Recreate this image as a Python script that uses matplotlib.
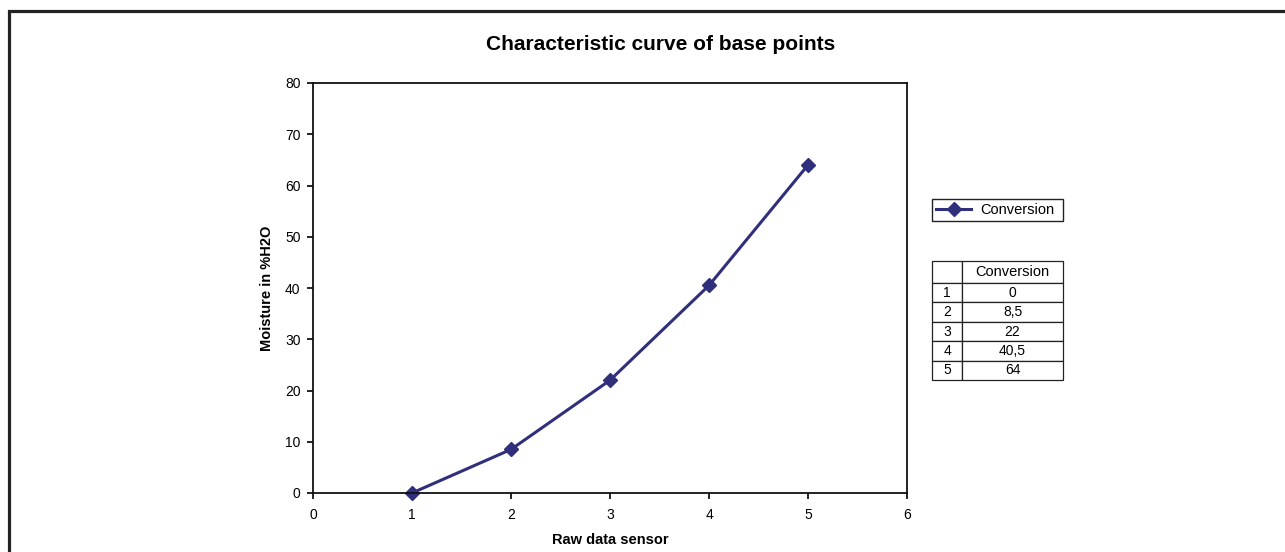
import matplotlib
matplotlib.use('Agg')
import matplotlib.pyplot as plt
from matplotlib.patches import Rectangle

# data
raw = [1, 2, 3, 4, 5]
moisture = [0, 8.5, 22, 40.5, 64]
series_name = 'Conversion'
x_ticks = [0, 1, 2, 3, 4, 5, 6]
y_ticks = [0, 10, 20, 30, 40, 50, 60, 70, 80]

plt.rcParams['font.family'] = ['Liberation Sans Narrow', 'Liberation Sans', 'DejaVu Sans']
navy = '#2f2f7c'

fig = plt.figure(figsize=(12.85, 5.52), dpi=100)
W, H = 1285.0, 552.0

# outer frame (runs off the right and bottom edge)
fig.patches.append(Rectangle((9 / W, -0.2), 1.2, 1.2 - 11 / H, transform=fig.transFigure,
                             fill=False, edgecolor='#222222', linewidth=2.3, zorder=0))

ax = fig.add_axes([313 / W, 1 - 493 / H, (907 - 313) / W, (493 - 83) / H])
line, = ax.plot(raw, moisture, color=navy, linewidth=2.2, marker='D', markersize=7.5,
                markeredgecolor=navy, markerfacecolor=navy, label=series_name, clip_on=False)
ax.set_xlim(0, 6)
ax.set_ylim(0, 80)
ax.set_xticks(x_ticks)
ax.set_yticks(y_ticks)
ax.tick_params(direction='out', length=4, width=1.2, labelsize=10,
               top=False, right=False)
ax.tick_params(axis='x', pad=7)
ax.tick_params(axis='y', pad=5)
for s in ax.spines.values():
    s.set_linewidth(1.3)
    s.set_color('#111111')
ax.set_xlabel('Raw data sensor', fontsize=10.5, fontweight='bold', labelpad=8)
ax.set_ylabel('Moisture in %H2O', fontsize=10.5, fontweight='bold', labelpad=8)

fig.text(661 / W, 1 - 44 / H, 'Characteristic curve of base points', ha='center', va='center',
         fontsize=15, fontweight='bold')

# legend box
leg = fig.legend(handles=[line], loc='center',
                 bbox_to_anchor=(932 / W, 1 - 223 / H, 131 / W, 26 / H), mode='expand',
                 fancybox=False, edgecolor='#222222', framealpha=1, fontsize=10.5,
                 borderaxespad=0, handlelength=2.4, borderpad=0.3, handletextpad=0.6)
leg.get_frame().set_linewidth(1.0)

# data table
tax = fig.add_axes([932 / W, 1 - 380 / H, 131 / W, 119 / H])
tax.axis('off')
cells = [[str(r), ('%g' % v).replace('.', ',')] for r, v in zip(raw, moisture)]
tbl = tax.table(cellText=cells, colLabels=['', series_name], cellLoc='center',
                colWidths=[30 / 131, 101 / 131], bbox=[0, 0, 1, 1])
tbl.auto_set_font_size(False)
tbl.set_fontsize(10)
for (r, c), cell in tbl.get_celld().items():
    cell.set_linewidth(0.9)
    cell.set_edgecolor('#222222')
    if r == 0:
        cell.set_height(22 / 119)
        cell.get_text().set_fontsize(10.5)
    else:
        cell.set_height(97 / 119 / 5)

fig.savefig('out.png', dpi=100)
